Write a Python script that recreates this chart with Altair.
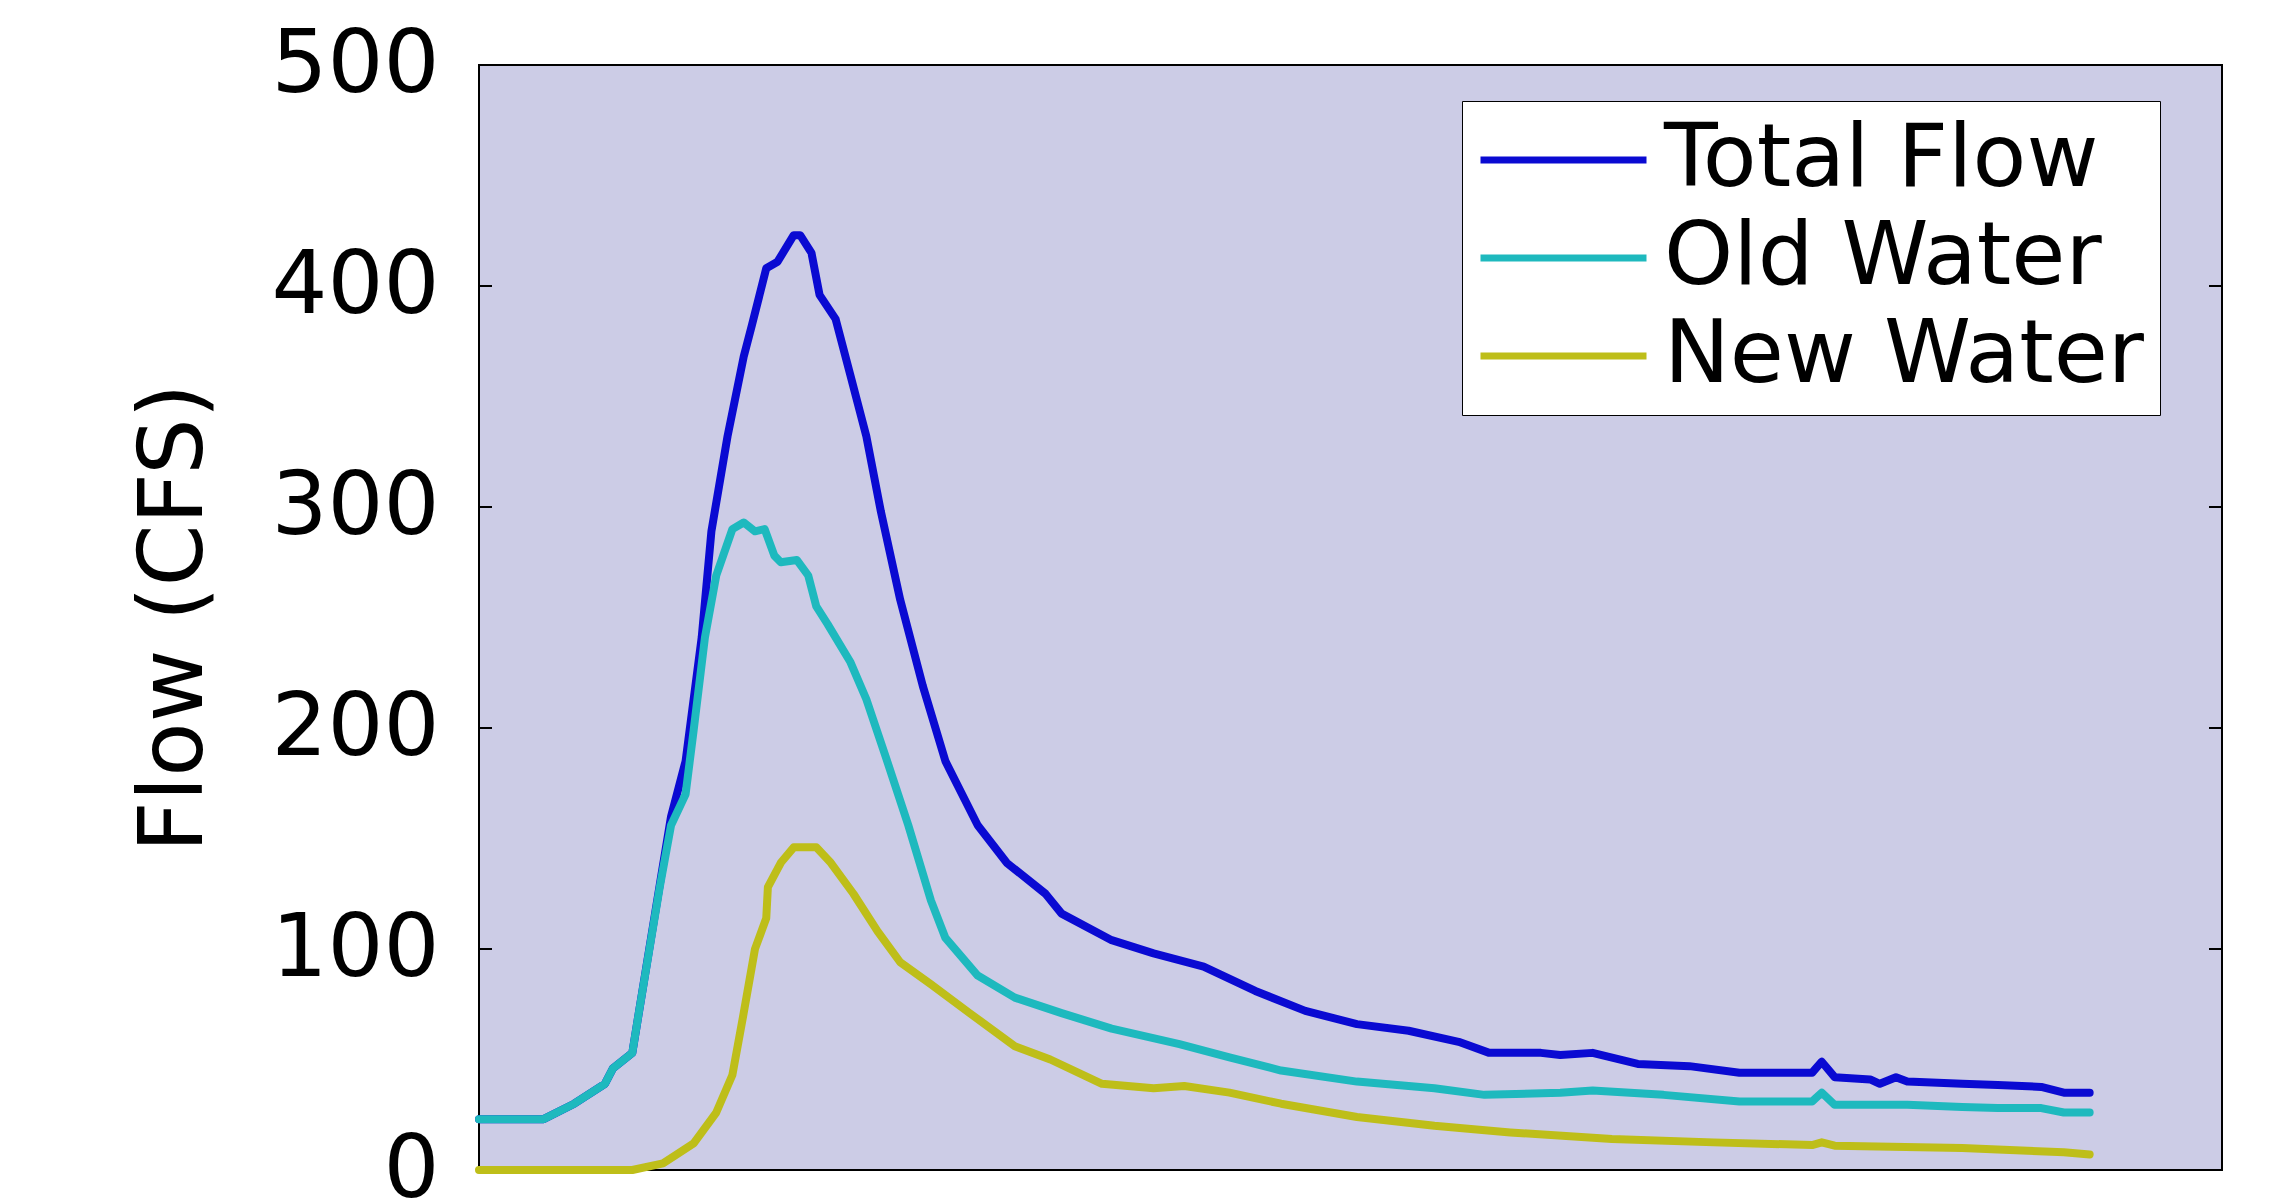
import altair as alt
import pandas as pd

series_names = ["Total Flow", "Old Water", "New Water"]
series_colors = ["#0A0AD2", "#1EB9BE", "#BEBE19"]

# time axis (arbitrary units), flow in CFS
t_total = [0, 4.0, 5.9, 7.8, 8.3, 9.5, 9.9, 11.2, 11.9, 12.8,
           13.8, 14.4, 15.4, 16.4, 16.9, 17.8, 18.5, 19.5, 19.9, 20.6,
           21.1, 22.1, 23.0, 24.0, 24.9, 26.1, 27.5, 28.9, 30.9, 32.7,
           35.1, 36.1, 39.2, 41.8, 44.9, 48.1, 51.2, 54.4, 57.6, 60.7,
           62.6, 65.8, 67.0, 69.0, 71.8, 75.0, 78.1, 82.6, 83.2, 84.0,
           86.2, 86.8, 87.8, 88.5, 91.9, 94.1, 96.8, 98.2, 99.8]
v_total = [23, 23, 30, 39, 46, 53, 71, 129, 160, 185,
           241, 289, 332, 368, 382, 408, 411, 423, 423, 415,
           396, 385, 360, 332, 298, 258, 219, 185, 156, 139,
           125, 116, 104, 98, 92, 81, 72, 66, 63, 58,
           53, 53, 52, 53, 48, 47, 44, 44, 49, 42,
           41, 39, 42, 40, 39, 38.5, 37.6, 35, 35]

t_old = [0, 4.0, 5.9, 7.8, 8.3, 9.5, 9.9, 11.2, 11.9, 12.8,
         13.3, 14.0, 14.7, 15.7, 16.4, 17.1, 17.7, 18.3, 18.7, 19.7,
         20.4, 20.9, 21.6, 23.0, 24.0, 25.2, 26.6, 28.0, 28.9, 30.9,
         33.2, 36.1, 39.2, 43.4, 46.5, 49.7, 54.4, 59.2, 62.3, 67.0,
         69.0, 73.4, 78.1, 82.6, 83.2, 84.0, 88.5, 91.9, 94.1, 96.8,
         98.2, 99.8]
v_old = [23, 23, 30, 39, 46, 53, 71, 128, 156, 170,
         199, 241, 269, 290, 293, 289, 290, 278, 275, 276,
         269, 255, 247, 230, 213, 187, 156, 122, 105, 88,
         78, 71, 64, 57, 51, 45, 40, 37, 34, 35,
         36, 34, 31, 31, 35, 29.5, 29.5, 28.5, 28, 28,
         26, 26]

t_new = [0, 9.5, 11.4, 13.3, 14.7, 15.7, 16.4, 17.1, 17.8, 17.9,
         18.7, 19.5, 20.9, 21.8, 23.2, 24.7, 26.1, 28.0, 30.4, 33.2,
         35.4, 38.6, 41.8, 43.7, 46.5, 49.7, 54.4, 59.2, 63.9, 70.2,
         76.5, 82.6, 83.2, 84.0, 91.9, 94.1, 98.2, 99.8]
v_new = [0, 0, 3, 12, 26, 43, 71, 100, 114, 128,
         139, 146, 146, 139, 125, 108, 94, 84, 71, 56,
         50, 39, 37, 38, 35, 30, 24, 20, 17, 14,
         12.5, 11.3, 12.5, 11, 10, 9.3, 8, 7]

y_ticks = [0, 100, 200, 300, 400, 500]
inner_ticks = [100, 200, 300, 400]

rows = []
for name, ts, vs in zip(series_names, [t_total, t_old, t_new], [v_total, v_old, v_new]):
    for t, v in zip(ts, vs):
        rows.append({"hours": t, "flow": v, "series": name})
df = pd.DataFrame(rows)
tick_df = pd.DataFrame({"flow": inner_ticks})

W, H = 1743, 1105
FONT = "DejaVu Sans"

x_enc = alt.X("hours:Q", scale=alt.Scale(domain=[0, 108], nice=False, zero=False), axis=None)
y_scale = alt.Scale(domain=[0, 500], nice=False)
y_axis = alt.Axis(
    values=y_ticks, format="d", ticks=False, tickSize=0, domain=False, grid=False,
    labelFont=FONT, labelFontSize=88, labelColor="black", labelPadding=40,
    title="Flow (CFS)", titleFont=FONT, titleFontSize=89, titleFontWeight="normal",
    titleColor="black", titleAngle=270, titleAlign="center", titleBaseline="middle",
    titleX=-305, titleY=H / 2,
)
y_enc = alt.Y("flow:Q", scale=y_scale, axis=y_axis)

legend = alt.Legend(
    orient="none", legendX=983, legendY=36, title=None,
    fillColor="white", strokeColor="black", padding=15,
    symbolType="stroke", symbolSize=166 * 166, symbolStrokeWidth=7, symbolOffset=0,
    labelFont=FONT, labelFontSize=88, labelColor="black", labelLimit=3000, labelOffset=14,
    rowPadding=10, clipHeight=88,
)
color_enc = alt.Color("series:N", scale=alt.Scale(domain=series_names, range=series_colors), legend=legend)

layers = []
for s in series_names:
    layers.append(
        alt.Chart(df)
        .transform_filter(alt.datum.series == s)
        .mark_line(strokeWidth=8, strokeJoin="round", strokeCap="round")
        .encode(x=x_enc, y=y_enc, color=color_enc)
    )

left_ticks = alt.Chart(tick_df).mark_rule(color="black", strokeWidth=2).encode(
    y=y_enc, x=alt.value(0), x2=alt.value(13)
)
right_ticks = alt.Chart(tick_df).mark_rule(color="black", strokeWidth=2).encode(
    y=y_enc, x=alt.value(W - 13), x2=alt.value(W)
)

chart = (
    alt.layer(*layers, left_ticks, right_ticks)
    .properties(
        width=W, height=H,
        autosize=alt.AutoSizeParams(type="none"),
        padding={"left": 471, "top": 57, "right": 40, "bottom": 40},
        background="white",
    )
    .configure_view(stroke="black", strokeWidth=2, fill="#CCCCE6")
)

chart.save("out.html", embed_options={"renderer": "svg", "actions": False})
